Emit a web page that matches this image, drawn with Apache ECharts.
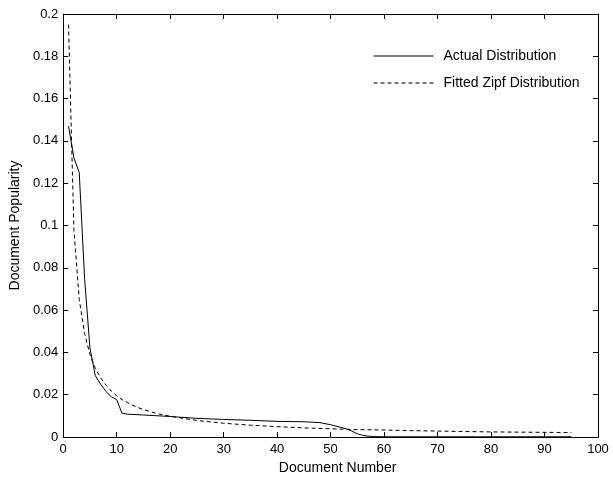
<!DOCTYPE html>
<html><head><meta charset="utf-8">
<script src="https://cdn.jsdelivr.net/npm/echarts@6/dist/echarts.min.js"></script>
<style>html,body{margin:0;padding:0;background:#fff}#c{width:613px;height:482px}</style>
</head><body><div id="c"></div>
<script>
var actualX = [1,2,3,4,5,6,7,8,9,10,11,12,15,20,25,30,35,40,45,48,50,52,53,54,55,56,57,58,60,70,80,95];
var actualY = [0.147,0.132,0.125,0.075,0.042,0.029,0.025,0.0215,0.019,0.0177,0.0112,0.0108,0.0104,0.0097,0.0088,0.0083,0.0079,0.0074,0.0072,0.0068,0.0058,0.0045,0.0038,0.0028,0.0015,0.0008,0.0004,0.0002,0.0001,0.0001,0.0001,0.0001];
var zipfX = [1,2,3,4,5,6,7,8,9,10,11,12,13,14,15,16,17,18,19,20,25,30,35,40,45,50,55,60,65,70,75,80,85,90,95];
var zipfY = [0.195,0.098,0.065,0.049,0.039,0.0325,0.028,0.0245,0.0217,0.0195,0.0177,0.0163,0.015,0.0139,0.013,0.0122,0.0115,0.0108,0.0103,0.0098,0.0078,0.0065,0.0056,0.0049,0.0043,0.0039,0.0035,0.0033,0.003,0.0028,0.0026,0.0024,0.0023,0.0022,0.0021];
var seriesNames = ['Actual Distribution','Fitted Zipf Distribution'];

function pairs(xs, ys){ return xs.map(function(x,i){return [x, ys[i]];}); }
var font = 'Liberation Sans, Arial, Helvetica, sans-serif';
var axisCommon = {
  axisLine:{show:true,onZero:false,lineStyle:{color:'#000',width:1}},
  axisTick:{show:true,inside:true,length:5,lineStyle:{color:'#000'}},
  splitLine:{show:false}
};
var chart = echarts.init(document.getElementById('c'), null, {renderer:'canvas'});
chart.setOption({
  animation:false,
  backgroundColor:'#fff',
  grid:{left:61,right:15,top:14,bottom:45},
  legend:{
    orient:'vertical', left:368, top:44, itemWidth:60, itemHeight:14, itemGap:13,
    itemStyle:{opacity:0,borderWidth:0},
    lineStyle:{width:1},
    textStyle:{fontFamily:font,fontSize:14,color:'#000',padding:[0,0,0,5]},
    data:seriesNames
  },
  xAxis:[
    Object.assign({type:'value',min:0,max:100,interval:10,position:'bottom',
      name:'Document Number',nameLocation:'middle',nameGap:20,
      nameTextStyle:{fontFamily:font,fontSize:14,color:'#000',padding:[0,0,0,14]},
      axisLabel:{fontFamily:font,fontSize:13,color:'#000',margin:6}}, axisCommon),
    Object.assign({type:'value',min:0,max:100,interval:10,position:'top',
      axisLabel:{show:false}}, axisCommon)
  ],
  yAxis:[
    Object.assign({type:'value',min:0,max:0.2,interval:0.02,position:'left',
      name:'Document Popularity',nameLocation:'middle',nameGap:40,
      nameTextStyle:{fontFamily:font,fontSize:14,color:'#000'},
      axisLabel:{fontFamily:font,fontSize:13,color:'#000',margin:5}}, axisCommon),
    Object.assign({type:'value',min:0,max:0.2,interval:0.02,position:'right',
      axisLabel:{show:false}}, axisCommon)
  ],
  series:[
    {name:seriesNames[0],type:'line',data:pairs(actualX,actualY),showSymbol:false,symbol:'none',
      lineStyle:{color:'#000',width:1,type:'solid'},itemStyle:{color:'#000'}},
    {name:seriesNames[1],type:'line',data:pairs(zipfX,zipfY),showSymbol:false,symbol:'none',
      lineStyle:{color:'#000',width:1,type:[4,3]},itemStyle:{color:'#000'}}
  ]
});
</script></body></html>
